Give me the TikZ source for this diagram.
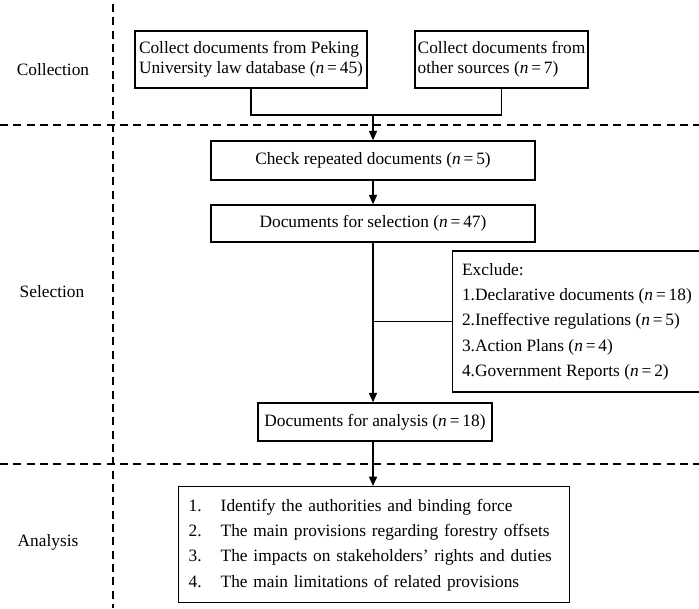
\documentclass[tikz,border=0pt]{standalone}
\usepackage{fontspec}
\setmainfont{Liberation Serif}
\usetikzlibrary{arrows.meta}
\tikzset{
  stagebox/.style={draw, line width=1.1pt, inner sep=2pt, font=\fontsize{13}{15}\selectfont},
  listbox/.style={draw, line width=1.1pt, align=left, inner xsep=7pt, font=\fontsize{13}{19}\selectfont},
  divider/.style={line width=1.1pt, dash pattern=on 6pt off 4pt},
  phase/.style={font=\fontsize{13}{15}\selectfont},
}
\newcommand{\nval}[1]{(\textit{n}\,=\,#1)}
\begin{document}
\begin{tikzpicture}[x=0.75pt, y=-0.75pt, >={Triangle[length=7pt,width=6pt]}, line width=1.1pt]
  \useasboundingbox (0,0) rectangle (699,608);
  % phase dividers
  \draw[divider] (113,4) -- (113,608);
  \draw[divider] (0,125) -- (699,125);
  \draw[divider] (0,464) -- (699,464);
  \node[phase] (collection) at (53,70) {Collection};
  \node[phase] (selectphase) at (52,292) {Selection};
  \node[phase] (analysephase) at (48,542) {Analysis};
  % boxes
  \node[stagebox, align=left, minimum width=174pt, minimum height=42.75pt] (peking) at (251,59.5) {Collect documents from Peking\\University law database \nval{45}};
  \node[stagebox, align=left, minimum width=128.25pt, minimum height=42.75pt] (other) at (501.5,59.5) {Collect documents from\\other sources \nval{7}};
  \coordinate (merge) at (373,115);
  \node[stagebox, minimum width=243pt, minimum height=29.25pt] (check) at (373,160.5) {Check repeated documents \nval{5}};
  \node[stagebox, minimum width=243pt, minimum height=27.75pt] (selection) at (373,223.5) {Documents for selection \nval{47}};
  \node[listbox, anchor=west, minimum height=105.75pt] (exclude) at (452,321.5) {Exclude:\\1.Declarative documents \nval{18}\\2.Ineffective regulations \nval{5}\\3.Action Plans \nval{4}\\4.Government Reports \nval{2}};
  \node[stagebox, minimum width=175.5pt, minimum height=28.5pt] (analysis) at (375,422) {Documents for analysis \nval{18}};
  \node[listbox, anchor=north west, inner xsep=7.5pt, text width=278pt, minimum height=87pt] (aims) at (178,486) {\makebox[24pt][l]{1.}Identify the authorities and binding force\\\makebox[24pt][l]{2.}The main provisions regarding forestry offsets\\\makebox[24pt][l]{3.}The impacts on stakeholders' rights and duties\\\makebox[24pt][l]{4.}The main limitations of related provisions};
  % connectors
  \draw (peking.south) |- (merge) -| (other.south);
  \draw[->] (merge) -- (check.north);
  \draw[->] (check.south) -- (selection.north);
  \draw[->] (selection.south) -- (selection.south |- analysis.north);
  \draw (selection.south |- exclude.west) -- (exclude.west);
  \draw[->] (selection.south |- analysis.south) -- (selection.south |- aims.north);
\end{tikzpicture}
\end{document}
